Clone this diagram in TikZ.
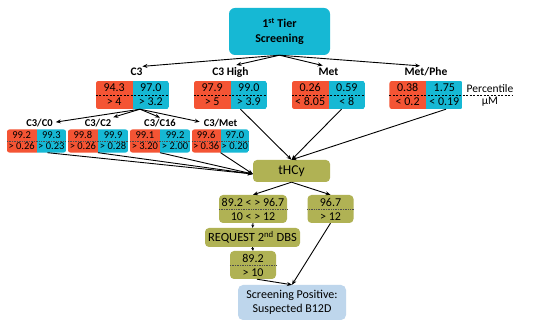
\documentclass[tikz,border=0pt]{standalone}
\usepackage{fontspec}
\setmainfont{Carlito}
\usepackage{xcolor}
\usetikzlibrary{arrows.meta, positioning, calc}

\definecolor{tred}{RGB}{244,84,52}
\definecolor{tcyan}{RGB}{22,184,212}
\definecolor{tolive}{RGB}{176,178,84}
\definecolor{tpale}{RGB}{190,214,236}

% two-colour value box: #1 size style, #2 separator style, #3 name, #4 position,
% #5 top left, #6 top right, #7 bottom left, #8 bottom right
\newcommand{\pairbox}[8]{%
  \node[#1] (#3) at (#4) {};
  \begin{scope}
    \clip[rounded corners=3pt] (#3.south west) rectangle (#3.north east);
    \fill[tred] (#3.south west) rectangle (#3.north);
    \fill[tcyan] (#3.south) rectangle (#3.north east);
  \end{scope}
  \draw[#2] (#3.west) -- (#3.east);
  \node[pairval] at ($(#3.west)!.5!(#3.north)$) {#5};
  \node[pairval] at ($(#3.north)!.5!(#3.east)$) {#6};
  \node[pairval] at ($(#3.west)!.5!(#3.south)$) {#7};
  \node[pairval] at ($(#3.south)!.5!(#3.east)$) {#8};
}

\begin{document}
\begin{tikzpicture}[
    x=1pt, y=-1pt,
    >={Stealth[length=5pt, width=4pt]},
    tierbox/.style={rectangle, fill=tcyan, rounded corners=6pt, minimum width=101pt, minimum height=47pt, align=center, font=\bfseries\fontsize{12}{14.5}\selectfont},
    pairtop/.style={rectangle, minimum width=73pt, minimum height=28pt, inner sep=0pt},
    pairlow/.style={rectangle, minimum width=#1, minimum height=23pt, inner sep=0pt},
    pairval/.style={inner sep=0pt, text height=.63em, text depth=0pt},
    head/.style={inner sep=1pt, text depth=0pt, font=\bfseries\fontsize{11.5}{13}\selectfont},
    headlow/.style={inner sep=1pt, text depth=0pt, font=\bfseries\fontsize{10.5}{12}\selectfont},
    olive/.style={rectangle, fill=tolive, rounded corners=4pt, align=center, inner sep=0pt, font=\fontsize{12}{14}\selectfont},
    result/.style={rectangle, fill=tpale, rounded corners=5pt, align=center, inner sep=0pt, minimum width=108pt, minimum height=35pt, font=\fontsize{12}{14.5}\selectfont},
    unit/.style={inner sep=0pt, font=\fontsize{11.5}{13}\selectfont},
    sepdash/.style={line width=0.6pt, dash pattern=on 2pt off 1.5pt},
    sepdot/.style={line width=0.7pt, densely dotted, black!70},
    link/.style={->, line width=0.9pt},
    tiny/.style={-{Stealth[length=3pt, width=3pt]}, line width=0.9pt},
]
    \path[use as bounding box, fill=white] (0,0) rectangle (550,328);

    % First tier
    \node[tierbox] (tier) at (279.5,31.5) {1\textsuperscript{st} Tier\\Screening};

    % Markers, first row
    \begin{scope}[font=\fontsize{12}{13}\selectfont]
        \pairbox{pairtop}{sepdash}{c3}{132.5,95}{94.3}{97.0}{> 4}{> 3.2}
        \pairbox{pairtop}{sepdash}{c3h}{230.5,95}{97.9}{99.0}{> 5}{> 3.9}
        \pairbox{pairtop}{sepdash}{met}{328.5,95}{0.26}{0.59}{< 8.05}{< 8}
        \pairbox{pairtop}{sepdash}{metphe}{426,95}{0.38}{1.75}{< 0.2}{< 0.19}
    \end{scope}
    \node[head, above=4pt of c3, xshift=4pt] (hC3) {C3};
    \node[head, above=4pt of c3h] (hC3h) {C3 High};
    \node[head, above=4pt of met] (hMet) {Met};
    \node[head, above=4pt of metphe] (hMetPhe) {Met/Phe};

    % Units
    \coordinate (sepend) at (513,95);
    \draw[sepdash] (metphe.east) -- (sepend);
    \node[unit] (pct) at (490,89) {Percentile};
    \node[unit] (mum) at (490,102) {μM};

    % Ratios, second row
    \begin{scope}[font=\fontsize{10.5}{12}\selectfont]
        \pairbox{pairlow=59pt}{sepdot}{c3c0}{36.5,141}{99.2}{99.3}{> 0.26}{> 0.23}
        \pairbox{pairlow=60pt}{sepdot}{c3c2}{98,141}{99.8}{99.9}{> 0.26}{> 0.28}
        \pairbox{pairlow=60pt}{sepdot}{c3c16}{160,141}{99.1}{99.2}{> 3.20}{> 2.00}
        \pairbox{pairlow=57pt}{sepdot}{c3met}{220.5,141}{99.6}{97.0}{> 0.36}{> 0.20}
    \end{scope}
    \node[headlow, above=2pt of c3c0, xshift=3pt] (hC3C0) {C3/C0};
    \node[headlow, above=2pt of c3c2] (hC3C2) {C3/C2};
    \node[headlow, above=2pt of c3c16] (hC3C16) {C3/C16};
    \node[headlow, above=2pt of c3met] (hC3Met) {C3/Met};

    % Second tier
    \node[olive, minimum width=77pt, minimum height=22pt, font=\fontsize{13.5}{15}\selectfont] (tHCy) at (291.5,171) {tHCy};
    \node[olive, minimum width=68pt, minimum height=28pt] (rngA) at (253,209) {89.2 < > 96.7\\10 < > 12};
    \draw[sepdot] (rngA.west) -- (rngA.east);
    \node[olive, minimum width=46pt, minimum height=28pt] (rngB) at (330.5,209) {96.7\\> 12};
    \draw[sepdot] (rngB.west) -- (rngB.east);
    \node[olive, minimum width=95pt, minimum height=19pt, font=\fontsize{12.5}{14}\selectfont] (req) at (252.5,237.5) {REQUEST 2\textsuperscript{nd} DBS};
    \node[olive, minimum width=46pt, minimum height=28pt] (rngC) at (253,265) {89.2\\> 10};
    \draw[sepdot] (rngC.west) -- (rngC.east);
    \node[result] (pos) at (292,302.5) {Screening Positive:\\Suspected B12D};

    % Arrows
    \foreach \h in {hC3, hC3h, hMet, hMetPhe}
        \draw[link, shorten >=6pt] (tier.south) -- (\h.north);
    \draw[link, shorten >=2pt] ([xshift=7.5pt]c3.south) -- (hC3C0.east);
    \draw[link, shorten >=1pt] ([xshift=7.5pt]c3.south) -- (hC3C2.north east);
    \draw[link] ([xshift=7.5pt]c3.south) -- (hC3C16.north);
    \draw[link, shorten >=3pt] ([xshift=7.5pt]c3.south) -- (hC3Met.west);
    \draw[link] ([xshift=11pt]c3c0.south) -- ([yshift=-3pt]tHCy.west);
    \foreach \b in {c3c2, c3c16, c3met}
        \draw[link] (\b.south) -- ([yshift=-3pt]tHCy.west);
    \draw[link] ([xshift=10pt]c3h.south) -- (tHCy.north);
    \draw[link] ([xshift=13pt]met.south) -- (tHCy.north);
    \draw[link] ([xshift=20pt]metphe.south) -- (tHCy.north);
    \draw[link] (tHCy.south) -- (rngA.north);
    \draw[link] (tHCy.south) -- (rngB.north);
    \draw[tiny] (rngA.south) -- (req.north);
    \draw[tiny] (req.south) -- (rngC.north);
    \draw[link] ([xshift=4pt]rngC.south) -- (pos.north);
    \draw[link] (rngB.south) -- (pos.north);

\end{tikzpicture}
\end{document}
